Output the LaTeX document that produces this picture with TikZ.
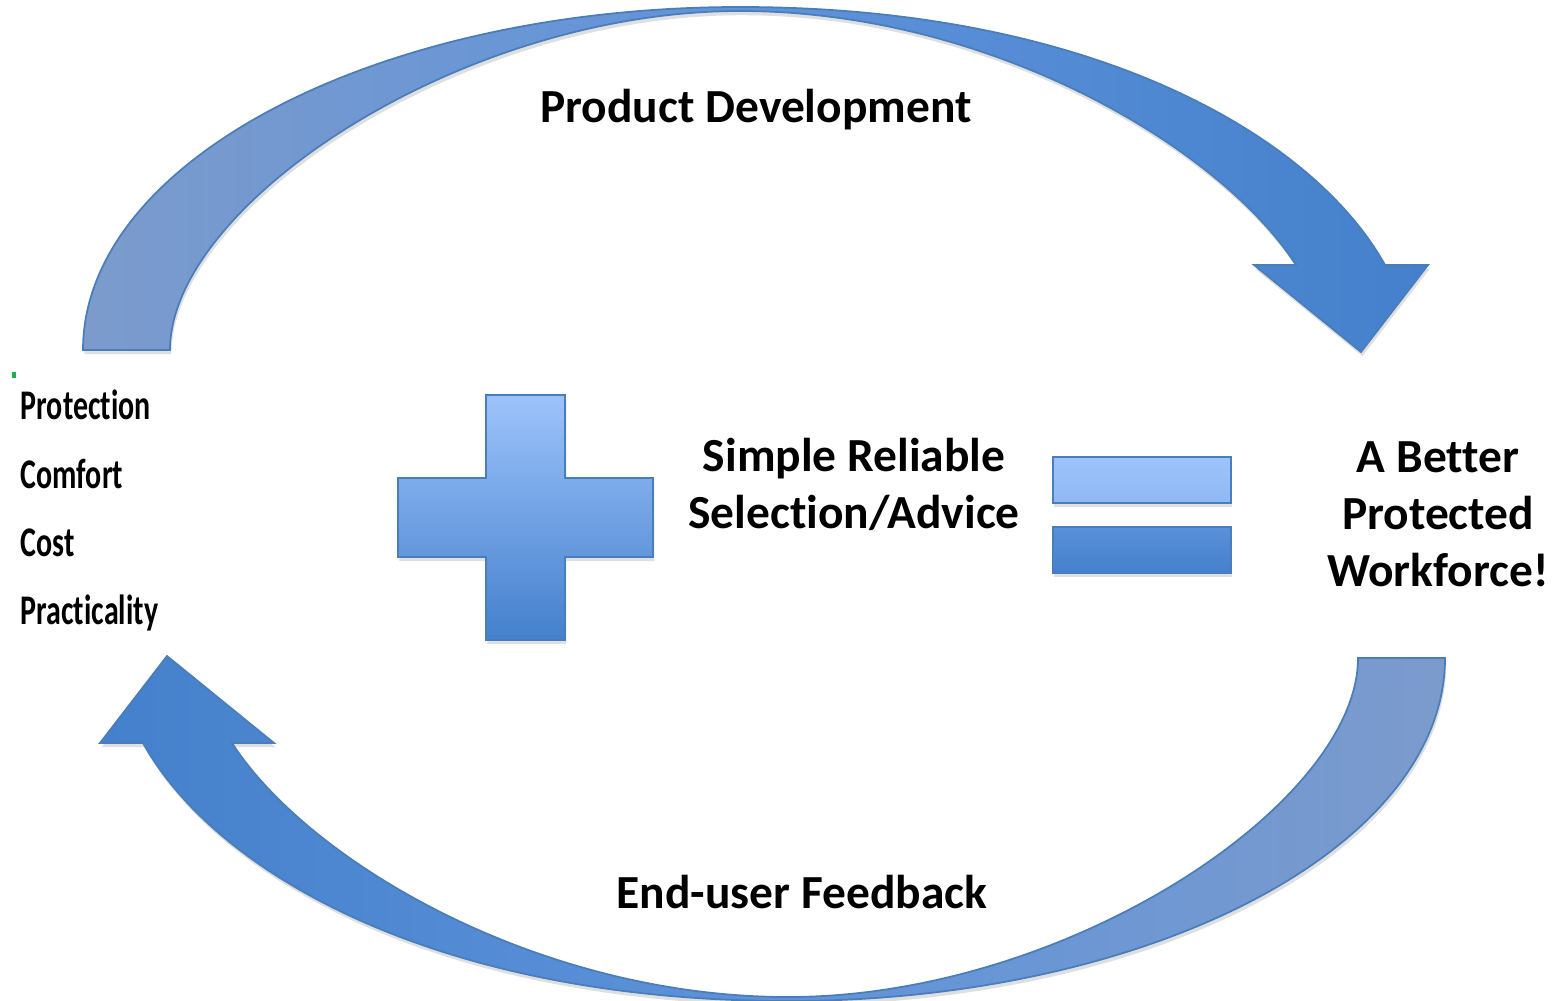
\documentclass[tikz,border=0pt]{standalone}
\usepackage{fontspec}
\setmainfont[Ligatures={NoCommon,NoContextual,NoRare}]{Carlito}
\usepackage{graphicx}
\usetikzlibrary{shadows}

\definecolor{arcmuted}{HTML}{7C9BCC}
\definecolor{arclight}{HTML}{5F93DA}
\definecolor{arcbright}{HTML}{4480CC}
\definecolor{symlight}{HTML}{9DC3FB}
\definecolor{symdark}{HTML}{4480CC}
\definecolor{edgeblue}{HTML}{4A7EBB}
\definecolor{markgreen}{HTML}{1DB04E}

\begin{document}
\begin{tikzpicture}[x=0.01cm, y=-0.01cm]
    \tikzstyle{blue shape}=[draw=edgeblue, line width=0.5pt, line join=miter,
        drop shadow={shadow xshift=0.4pt, shadow yshift=-1.2pt, opacity=0.25}]
    \tikzstyle{big label}=[inner sep=0pt, font=\bfseries\fontsize{13.5}{16.2}\selectfont]
    \tikzstyle{list item}=[inner sep=0pt, anchor=base west, font=\bfseries\fontsize{12}{14}\selectfont]

    \useasboundingbox (0,0) rectangle (1561,1000);

    % Draw the two curved arrows (the lower one is the upper one turned round)
    \foreach \turn/\lc/\rc in {0/arcmuted/arcbright, 180/arcbright/arcmuted}
        \path[blue shape, left color=\lc, right color=\rc, middle color=arclight,
              rotate around={\turn:(764,504)}]
            (83,350) .. controls (83,161) and (377,7) .. (740,7)
            .. controls (1090,7) and (1312,134) .. (1385,265)
            -- (1428,265) -- (1361,352) -- (1254,265) -- (1296,265)
            .. controls (1220,147) and (990,11) .. (740,11)
            .. controls (460,11) and (170,205) .. (170,350) -- cycle;

    % Draw the plus sign
    \path[blue shape, top color=symlight, bottom color=symdark]
        (486,395) -- (565,395) -- (565,478) -- (653,478) -- (653,557)
        -- (565,557) -- (565,640) -- (486,640) -- (486,557) -- (398,557)
        -- (398,478) -- (486,478) -- cycle;

    % Draw the equals sign
    \path[blue shape, top color=symlight, bottom color=symlight!85!symdark]
        (1053,457) rectangle (1231,503);
    \path[blue shape, top color=symdark!75!symlight, bottom color=symdark]
        (1053,527) rectangle (1231,573);

    % Labels
    \node[big label, anchor=base] (develop) at (756,122) {Product Development};
    \node[big label, anchor=base] (feedback) at (802,908) {End-user Feedback};
    \node[big label, align=center] (advice) at (854,484) {Simple Reliable\\Selection/Advice};
    \node[big label, align=center] (workforce) at (1438,514) {A Better\\Protected\\Workforce!};

    % The list of needs on the left
    \fill[markgreen] (12,372) rectangle (16,378);
    \foreach \name/\y in {Protection/419, Comfort/488, Cost/556, Practicality/624}
        \node[list item] (need-\name) at (20,\y) {\scalebox{0.71}[1]{\name}};
\end{tikzpicture}
\end{document}
